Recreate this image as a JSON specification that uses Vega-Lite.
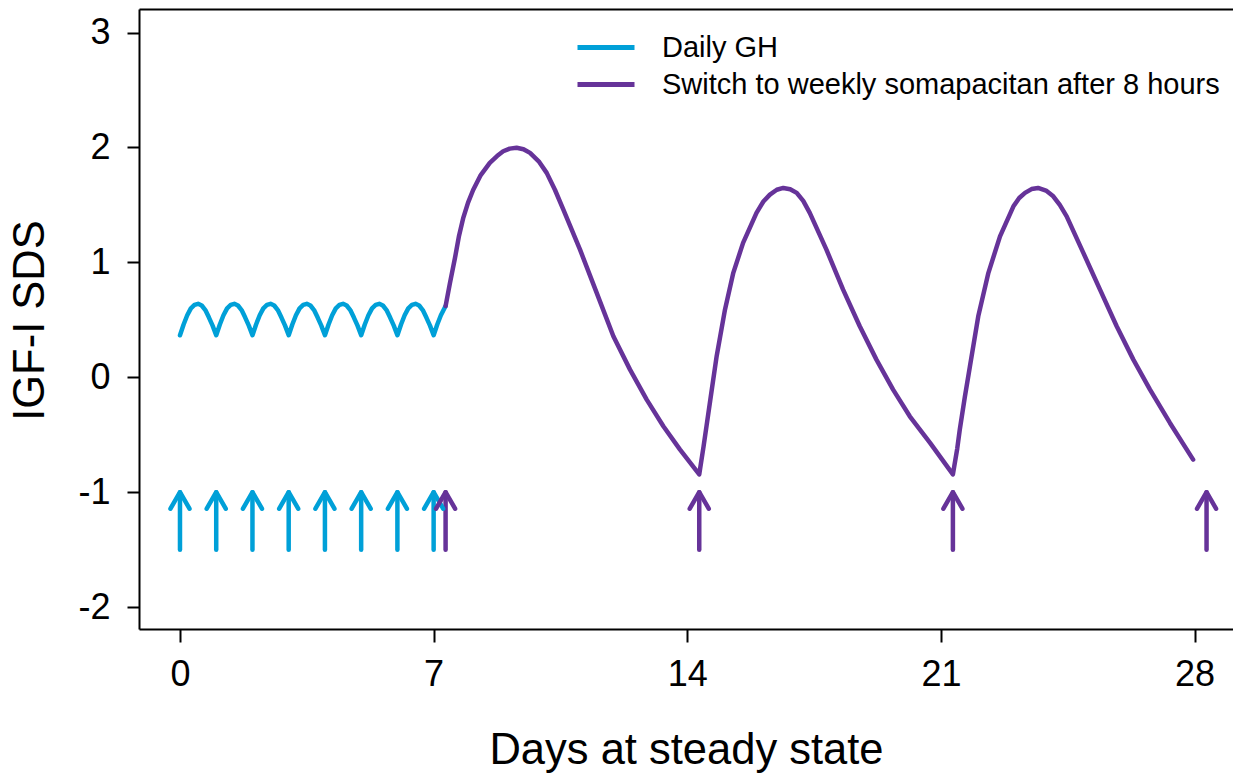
{
  "$schema": "https://vega.github.io/schema/vega-lite/v6.json",
  "width": 1094,
  "height": 620,
  "autosize": "none",
  "padding": {"left": 139, "top": 9, "right": 0, "bottom": 144},
  "background": "white",
  "config": {
    "view": {"stroke": null},
    "font": "Liberation Sans",
    "axis": {"grid": false, "domainColor": "black", "domainWidth": 2, "tickColor": "black", "tickWidth": 2, "labelColor": "black", "titleColor": "black", "labelFont": "Liberation Sans", "titleFont": "Liberation Sans", "titleFontWeight": "normal"},
    "legend": {"labelFont": "Liberation Sans"}
  },
  "datasets": {
    "curve": [
      {"day": 0, "value": 0.366, "s": "Daily GH"},
      {"day": 0.1, "value": 0.46, "s": "Daily GH"},
      {"day": 0.2, "value": 0.54, "s": "Daily GH"},
      {"day": 0.3, "value": 0.6, "s": "Daily GH"},
      {"day": 0.4, "value": 0.63, "s": "Daily GH"},
      {"day": 0.5, "value": 0.64, "s": "Daily GH"},
      {"day": 0.6, "value": 0.625, "s": "Daily GH"},
      {"day": 0.7, "value": 0.585, "s": "Daily GH"},
      {"day": 0.8, "value": 0.52, "s": "Daily GH"},
      {"day": 0.9, "value": 0.45, "s": "Daily GH"},
      {"day": 1, "value": 0.366, "s": "Daily GH"},
      {"day": 1.1, "value": 0.46, "s": "Daily GH"},
      {"day": 1.2, "value": 0.54, "s": "Daily GH"},
      {"day": 1.3, "value": 0.6, "s": "Daily GH"},
      {"day": 1.4, "value": 0.63, "s": "Daily GH"},
      {"day": 1.5, "value": 0.64, "s": "Daily GH"},
      {"day": 1.6, "value": 0.625, "s": "Daily GH"},
      {"day": 1.7, "value": 0.585, "s": "Daily GH"},
      {"day": 1.8, "value": 0.52, "s": "Daily GH"},
      {"day": 1.9, "value": 0.45, "s": "Daily GH"},
      {"day": 2, "value": 0.366, "s": "Daily GH"},
      {"day": 2.1, "value": 0.46, "s": "Daily GH"},
      {"day": 2.2, "value": 0.54, "s": "Daily GH"},
      {"day": 2.3, "value": 0.6, "s": "Daily GH"},
      {"day": 2.4, "value": 0.63, "s": "Daily GH"},
      {"day": 2.5, "value": 0.64, "s": "Daily GH"},
      {"day": 2.6, "value": 0.625, "s": "Daily GH"},
      {"day": 2.7, "value": 0.585, "s": "Daily GH"},
      {"day": 2.8, "value": 0.52, "s": "Daily GH"},
      {"day": 2.9, "value": 0.45, "s": "Daily GH"},
      {"day": 3, "value": 0.366, "s": "Daily GH"},
      {"day": 3.1, "value": 0.46, "s": "Daily GH"},
      {"day": 3.2, "value": 0.54, "s": "Daily GH"},
      {"day": 3.3, "value": 0.6, "s": "Daily GH"},
      {"day": 3.4, "value": 0.63, "s": "Daily GH"},
      {"day": 3.5, "value": 0.64, "s": "Daily GH"},
      {"day": 3.6, "value": 0.625, "s": "Daily GH"},
      {"day": 3.7, "value": 0.585, "s": "Daily GH"},
      {"day": 3.8, "value": 0.52, "s": "Daily GH"},
      {"day": 3.9, "value": 0.45, "s": "Daily GH"},
      {"day": 4, "value": 0.366, "s": "Daily GH"},
      {"day": 4.1, "value": 0.46, "s": "Daily GH"},
      {"day": 4.2, "value": 0.54, "s": "Daily GH"},
      {"day": 4.3, "value": 0.6, "s": "Daily GH"},
      {"day": 4.4, "value": 0.63, "s": "Daily GH"},
      {"day": 4.5, "value": 0.64, "s": "Daily GH"},
      {"day": 4.6, "value": 0.625, "s": "Daily GH"},
      {"day": 4.7, "value": 0.585, "s": "Daily GH"},
      {"day": 4.8, "value": 0.52, "s": "Daily GH"},
      {"day": 4.9, "value": 0.45, "s": "Daily GH"},
      {"day": 5, "value": 0.366, "s": "Daily GH"},
      {"day": 5.1, "value": 0.46, "s": "Daily GH"},
      {"day": 5.2, "value": 0.54, "s": "Daily GH"},
      {"day": 5.3, "value": 0.6, "s": "Daily GH"},
      {"day": 5.4, "value": 0.63, "s": "Daily GH"},
      {"day": 5.5, "value": 0.64, "s": "Daily GH"},
      {"day": 5.6, "value": 0.625, "s": "Daily GH"},
      {"day": 5.7, "value": 0.585, "s": "Daily GH"},
      {"day": 5.8, "value": 0.52, "s": "Daily GH"},
      {"day": 5.9, "value": 0.45, "s": "Daily GH"},
      {"day": 6, "value": 0.366, "s": "Daily GH"},
      {"day": 6.1, "value": 0.46, "s": "Daily GH"},
      {"day": 6.2, "value": 0.54, "s": "Daily GH"},
      {"day": 6.3, "value": 0.6, "s": "Daily GH"},
      {"day": 6.4, "value": 0.63, "s": "Daily GH"},
      {"day": 6.5, "value": 0.64, "s": "Daily GH"},
      {"day": 6.6, "value": 0.625, "s": "Daily GH"},
      {"day": 6.7, "value": 0.585, "s": "Daily GH"},
      {"day": 6.8, "value": 0.52, "s": "Daily GH"},
      {"day": 6.9, "value": 0.45, "s": "Daily GH"},
      {"day": 7, "value": 0.366, "s": "Daily GH"},
      {"day": 7.1, "value": 0.46, "s": "Daily GH"},
      {"day": 7.2, "value": 0.54, "s": "Daily GH"},
      {"day": 7.33, "value": 0.62, "s": "Daily GH"},
      {"day": 7.33, "value": 0.62, "s": "Switch to weekly somapacitan after 8 hours"},
      {"day": 7.45, "value": 0.82, "s": "Switch to weekly somapacitan after 8 hours"},
      {"day": 7.59, "value": 1.04, "s": "Switch to weekly somapacitan after 8 hours"},
      {"day": 7.7, "value": 1.23, "s": "Switch to weekly somapacitan after 8 hours"},
      {"day": 7.82, "value": 1.39, "s": "Switch to weekly somapacitan after 8 hours"},
      {"day": 7.95, "value": 1.52, "s": "Switch to weekly somapacitan after 8 hours"},
      {"day": 8.09, "value": 1.63, "s": "Switch to weekly somapacitan after 8 hours"},
      {"day": 8.3, "value": 1.76, "s": "Switch to weekly somapacitan after 8 hours"},
      {"day": 8.55, "value": 1.866, "s": "Switch to weekly somapacitan after 8 hours"},
      {"day": 8.75, "value": 1.925, "s": "Switch to weekly somapacitan after 8 hours"},
      {"day": 8.92, "value": 1.967, "s": "Switch to weekly somapacitan after 8 hours"},
      {"day": 9.1, "value": 1.99, "s": "Switch to weekly somapacitan after 8 hours"},
      {"day": 9.29, "value": 1.997, "s": "Switch to weekly somapacitan after 8 hours"},
      {"day": 9.48, "value": 1.985, "s": "Switch to weekly somapacitan after 8 hours"},
      {"day": 9.66, "value": 1.953, "s": "Switch to weekly somapacitan after 8 hours"},
      {"day": 9.9, "value": 1.88, "s": "Switch to weekly somapacitan after 8 hours"},
      {"day": 10.12, "value": 1.779, "s": "Switch to weekly somapacitan after 8 hours"},
      {"day": 10.35, "value": 1.63, "s": "Switch to weekly somapacitan after 8 hours"},
      {"day": 10.58, "value": 1.46, "s": "Switch to weekly somapacitan after 8 hours"},
      {"day": 11.04, "value": 1.111, "s": "Switch to weekly somapacitan after 8 hours"},
      {"day": 11.5, "value": 0.735, "s": "Switch to weekly somapacitan after 8 hours"},
      {"day": 11.96, "value": 0.357, "s": "Switch to weekly somapacitan after 8 hours"},
      {"day": 12.42, "value": 0.067, "s": "Switch to weekly somapacitan after 8 hours"},
      {"day": 12.88, "value": -0.194, "s": "Switch to weekly somapacitan after 8 hours"},
      {"day": 13.34, "value": -0.426, "s": "Switch to weekly somapacitan after 8 hours"},
      {"day": 13.8, "value": -0.629, "s": "Switch to weekly somapacitan after 8 hours"},
      {"day": 14.33, "value": -0.845, "s": "Switch to weekly somapacitan after 8 hours"},
      {"day": 14.45, "value": -0.6, "s": "Switch to weekly somapacitan after 8 hours"},
      {"day": 14.53, "value": -0.426, "s": "Switch to weekly somapacitan after 8 hours"},
      {"day": 14.67, "value": -0.12, "s": "Switch to weekly somapacitan after 8 hours"},
      {"day": 14.81, "value": 0.183, "s": "Switch to weekly somapacitan after 8 hours"},
      {"day": 15.04, "value": 0.589, "s": "Switch to weekly somapacitan after 8 hours"},
      {"day": 15.27, "value": 0.909, "s": "Switch to weekly somapacitan after 8 hours"},
      {"day": 15.54, "value": 1.17, "s": "Switch to weekly somapacitan after 8 hours"},
      {"day": 15.91, "value": 1.431, "s": "Switch to weekly somapacitan after 8 hours"},
      {"day": 16.1, "value": 1.53, "s": "Switch to weekly somapacitan after 8 hours"},
      {"day": 16.28, "value": 1.59, "s": "Switch to weekly somapacitan after 8 hours"},
      {"day": 16.47, "value": 1.632, "s": "Switch to weekly somapacitan after 8 hours"},
      {"day": 16.65, "value": 1.648, "s": "Switch to weekly somapacitan after 8 hours"},
      {"day": 16.84, "value": 1.637, "s": "Switch to weekly somapacitan after 8 hours"},
      {"day": 17.02, "value": 1.605, "s": "Switch to weekly somapacitan after 8 hours"},
      {"day": 17.2, "value": 1.535, "s": "Switch to weekly somapacitan after 8 hours"},
      {"day": 17.38, "value": 1.431, "s": "Switch to weekly somapacitan after 8 hours"},
      {"day": 17.84, "value": 1.111, "s": "Switch to weekly somapacitan after 8 hours"},
      {"day": 18.3, "value": 0.763, "s": "Switch to weekly somapacitan after 8 hours"},
      {"day": 18.76, "value": 0.444, "s": "Switch to weekly somapacitan after 8 hours"},
      {"day": 19.22, "value": 0.154, "s": "Switch to weekly somapacitan after 8 hours"},
      {"day": 19.68, "value": -0.107, "s": "Switch to weekly somapacitan after 8 hours"},
      {"day": 20.14, "value": -0.339, "s": "Switch to weekly somapacitan after 8 hours"},
      {"day": 20.7, "value": -0.571, "s": "Switch to weekly somapacitan after 8 hours"},
      {"day": 21.33, "value": -0.845, "s": "Switch to weekly somapacitan after 8 hours"},
      {"day": 21.45, "value": -0.62, "s": "Switch to weekly somapacitan after 8 hours"},
      {"day": 21.52, "value": -0.455, "s": "Switch to weekly somapacitan after 8 hours"},
      {"day": 21.66, "value": -0.17, "s": "Switch to weekly somapacitan after 8 hours"},
      {"day": 21.8, "value": 0.096, "s": "Switch to weekly somapacitan after 8 hours"},
      {"day": 22.03, "value": 0.531, "s": "Switch to weekly somapacitan after 8 hours"},
      {"day": 22.31, "value": 0.909, "s": "Switch to weekly somapacitan after 8 hours"},
      {"day": 22.63, "value": 1.227, "s": "Switch to weekly somapacitan after 8 hours"},
      {"day": 23.0, "value": 1.488, "s": "Switch to weekly somapacitan after 8 hours"},
      {"day": 23.16, "value": 1.56, "s": "Switch to weekly somapacitan after 8 hours"},
      {"day": 23.32, "value": 1.605, "s": "Switch to weekly somapacitan after 8 hours"},
      {"day": 23.5, "value": 1.638, "s": "Switch to weekly somapacitan after 8 hours"},
      {"day": 23.68, "value": 1.648, "s": "Switch to weekly somapacitan after 8 hours"},
      {"day": 23.9, "value": 1.625, "s": "Switch to weekly somapacitan after 8 hours"},
      {"day": 24.1, "value": 1.575, "s": "Switch to weekly somapacitan after 8 hours"},
      {"day": 24.28, "value": 1.5, "s": "Switch to weekly somapacitan after 8 hours"},
      {"day": 24.47, "value": 1.401, "s": "Switch to weekly somapacitan after 8 hours"},
      {"day": 24.93, "value": 1.083, "s": "Switch to weekly somapacitan after 8 hours"},
      {"day": 25.39, "value": 0.763, "s": "Switch to weekly somapacitan after 8 hours"},
      {"day": 25.85, "value": 0.444, "s": "Switch to weekly somapacitan after 8 hours"},
      {"day": 26.31, "value": 0.154, "s": "Switch to weekly somapacitan after 8 hours"},
      {"day": 26.77, "value": -0.107, "s": "Switch to weekly somapacitan after 8 hours"},
      {"day": 27.32, "value": -0.397, "s": "Switch to weekly somapacitan after 8 hours"},
      {"day": 27.96, "value": -0.716, "s": "Switch to weekly somapacitan after 8 hours"}
    ],
    "arrows": [
      {"day": 0, "lo": -1.5, "hi": -1.0, "s": "Daily GH"},
      {"day": 1, "lo": -1.5, "hi": -1.0, "s": "Daily GH"},
      {"day": 2, "lo": -1.5, "hi": -1.0, "s": "Daily GH"},
      {"day": 3, "lo": -1.5, "hi": -1.0, "s": "Daily GH"},
      {"day": 4, "lo": -1.5, "hi": -1.0, "s": "Daily GH"},
      {"day": 5, "lo": -1.5, "hi": -1.0, "s": "Daily GH"},
      {"day": 6, "lo": -1.5, "hi": -1.0, "s": "Daily GH"},
      {"day": 7, "lo": -1.5, "hi": -1.0, "s": "Daily GH"},
      {"day": 7.33, "lo": -1.5, "hi": -1.0, "s": "Switch to weekly somapacitan after 8 hours"},
      {"day": 14.33, "lo": -1.5, "hi": -1.0, "s": "Switch to weekly somapacitan after 8 hours"},
      {"day": 21.33, "lo": -1.5, "hi": -1.0, "s": "Switch to weekly somapacitan after 8 hours"},
      {"day": 28.33, "lo": -1.5, "hi": -1.0, "s": "Switch to weekly somapacitan after 8 hours"}
    ]
  },
  "layer": [
    {
      "data": {"name": "curve"},
      "mark": {"type": "line", "strokeWidth": 4.5, "strokeCap": "round", "strokeJoin": "round"},
      "encoding": {
        "x": {"field": "day", "type": "quantitative",
          "scale": {"domain": [-1.131, 29.06], "nice": false, "zero": false},
          "axis": {"orient": "bottom", "values": [0, 7, 14, 21, 28], "title": "Days at steady state", "titleFontSize": 43.5, "titleBaseline": "alphabetic", "titleY": 134, "labelFontSize": 36, "tickSize": 13, "labelPadding": 15, "labelFlush": false, "labelOverlap": false}},
        "y": {"field": "value", "type": "quantitative",
          "scale": {"domain": [-2.19, 3.205], "nice": false, "zero": false},
          "axis": {"values": [-2, -1, 0, 1, 2, 3], "title": "IGF-I SDS", "titleFontSize": 43.5, "titleAngle": 270, "titleBaseline": "alphabetic", "titleAlign": "center", "titleX": -96, "titleY": 311, "labelFontSize": 36, "tickSize": 12, "labelPadding": 17, "labelExpr": "'' + datum.value", "labelFlush": false, "labelOverlap": false}},
        "color": {"field": "s", "type": "nominal",
          "scale": {"domain": ["Daily GH", "Switch to weekly somapacitan after 8 hours"], "range": ["#00A0D8", "#663399"]},
          "legend": {"title": null, "orient": "none", "legendX": 452.5, "legendY": 24, "padding": 0, "symbolType": "M-2.85,0L2.85,0", "symbolSize": 400, "symbolStrokeWidth": 5, "symbolOffset": 0, "labelOffset": 41.5, "labelFontSize": 29, "labelColor": "black", "labelLimit": 1000, "rowPadding": 7}}
      }
    },
    {
      "data": {"name": "arrows"},
      "mark": {"type": "rule", "strokeWidth": 4.5, "strokeCap": "round"},
      "encoding": {
        "x": {"field": "day", "type": "quantitative",
          "scale": {"domain": [-1.131, 29.06], "nice": false, "zero": false},
          "axis": {"orient": "top", "labels": false, "ticks": false, "title": null, "domain": true}},
        "y": {"field": "lo", "type": "quantitative", "axis": {"title": "IGF-I SDS"}},
        "y2": {"field": "hi"},
        "color": {"field": "s", "type": "nominal"}
      }
    },
    {
      "data": {"name": "arrows"},
      "mark": {"type": "point", "shape": "M-0.95,1.65L0,0L0.95,1.65", "size": 400, "filled": false, "strokeWidth": 4.5, "strokeCap": "round", "strokeJoin": "round", "opacity": 1},
      "encoding": {
        "x": {"field": "day", "type": "quantitative", "axis": null},
        "y": {"field": "hi", "type": "quantitative", "axis": {"title": "IGF-I SDS"}},
        "color": {"field": "s", "type": "nominal"}
      }
    }
  ],
  "resolve": {"axis": {"x": "independent"}}
}
